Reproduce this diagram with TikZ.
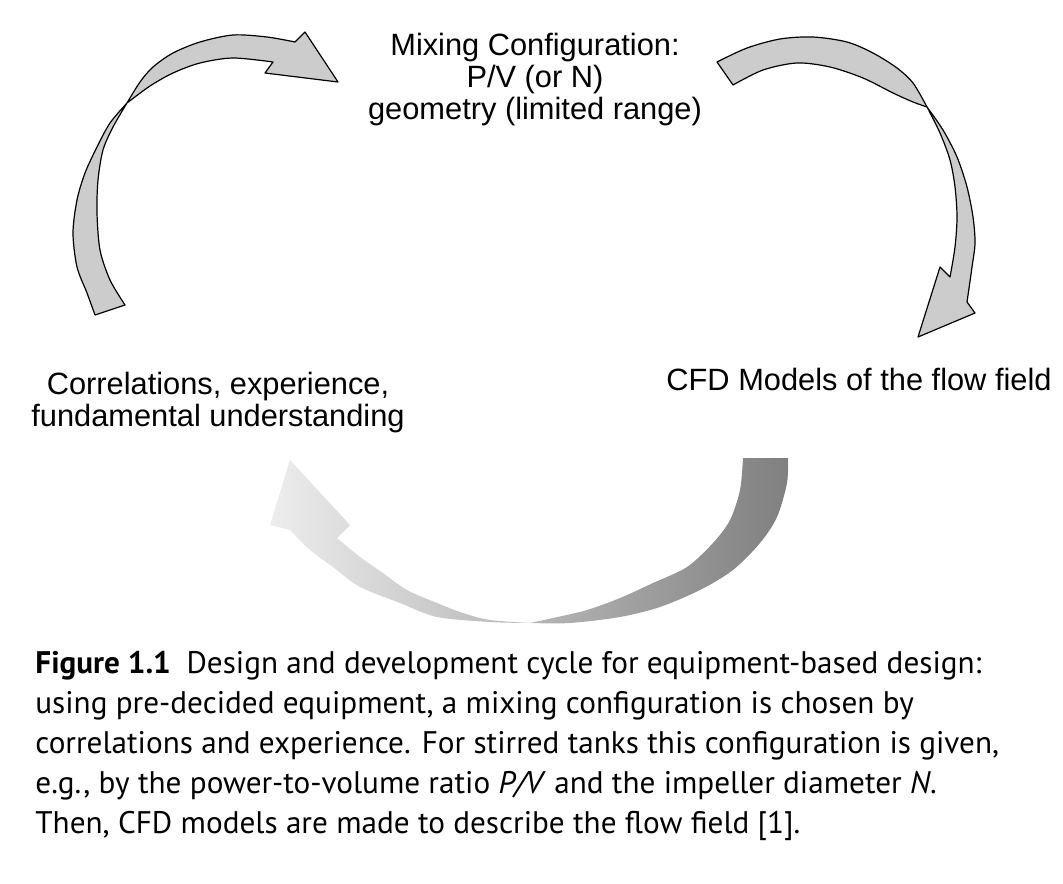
\documentclass[tikz,border=0pt]{standalone}
\usepackage{fontspec}
\setmainfont{Liberation Sans}
\newfontfamily\capfont{PT Sans}
\usepackage{tikz}
\definecolor{ribbon}{gray}{0.8}
\definecolor{fadelight}{gray}{0.93}
\definecolor{fadedark}{gray}{0.5}
\tikzset{
  ribbon/.style={fill=ribbon, draw=black, line width=0.6pt, line join=round},
  lbl/.style={align=center, inner sep=0pt, font=\fontsize{15.4}{16}\selectfont}
}

\begin{document}
\begin{tikzpicture}[x=0.5pt, y=-0.5pt]
  \useasboundingbox (0,0) rectangle (1063,883);

  % upper left arrow, twisted ribbon
  \filldraw[ribbon] (95,315)
    -- plot[smooth] coordinates {(95,315) (87,293) (77,267) (73,233) (77,200) (85,173) (97,147) (110,123) (127,103)}
    -- plot[smooth] coordinates {(127,103) (140,82) (153,67) (173,53) (200,42) (233,35) (267,37) (295,42)}
    -- (305,32) -- (338,82) -- (265,73) -- (273,62)
    -- plot[smooth] coordinates {(273,62) (233,58) (200,63) (173,73) (150,86) (127,103)}
    -- plot[smooth] coordinates {(127,103) (113,127) (103,150) (98,180) (97,213) (100,250) (110,280) (125,305)}
    -- cycle;

  % upper right arrow, twisted ribbon
  \filldraw[ribbon] (717,62)
    -- plot[smooth] coordinates {(717,62) (747,48) (780,39) (813,37) (847,42) (873,53) (897,68) (913,83) (927,107)}
    -- plot[smooth] coordinates {(927,107) (943,130) (957,157) (967,187) (973,217) (975,243) (972,267) (967,302)}
    -- (975,313) -- (918,337) -- (940,267) -- (950,277)
    -- plot[smooth] coordinates {(950,277) (955,247) (957,217) (955,187) (950,160) (940,133) (927,107)}
    -- plot[smooth] coordinates {(927,107) (913,102) (893,93) (863,78) (830,67) (797,63) (763,70) (733,85)}
    -- cycle;

  % lower arrow, fading out to the left
  \shade[left color=fadelight, right color=fadedark] (788,458)
    -- plot[smooth] coordinates {(788,458) (787,483) (777,517) (760,543) (733,570) (700,590) (660,607) (620,617) (570,623) (530,623)}
    -- plot[smooth] coordinates {(530,623) (490,622) (437,617) (400,603) (360,587) (333,567) (310,550) (290,530)}
    -- (270,525) -- (290,460) -- (350,525) -- (337,538)
    -- plot[smooth] coordinates {(337,538) (360,557) (383,573) (407,590) (437,603) (463,613) (490,620) (530,623)}
    -- plot[smooth] coordinates {(530,623) (553,618) (587,610) (620,598) (653,583) (687,567) (713,543) (730,520) (740,490) (743,458)}
    -- cycle;

  \node[lbl] (mixcfg) at (535,80) {Mixing Configuration:\\P/V (or N)\\geometry (limited range)};
  \node[lbl] (corr) at (218,403) {Correlations, experience,\\fundamental understanding};
  \node[lbl, anchor=base] (cfd) at (859,390) {CFD Models of the flow field};

  \node[anchor=north west, align=left, inner sep=0pt,
        font=\capfont\fontsize{15.6}{20}\selectfont] (caption) at (35,651)
    {\textbf{Figure 1.1}\enspace Design and development cycle for equipment-based design:\\
     using pre-decided equipment, a mixing configuration is chosen by\\
     correlations and experience. For stirred tanks this configuration is given,\\
     e.g., by the power-to-volume ratio \textit{P/V} and the impeller diameter \textit{N}.\\
     Then, CFD models are made to describe the flow field [1].};
\end{tikzpicture}
\end{document}
